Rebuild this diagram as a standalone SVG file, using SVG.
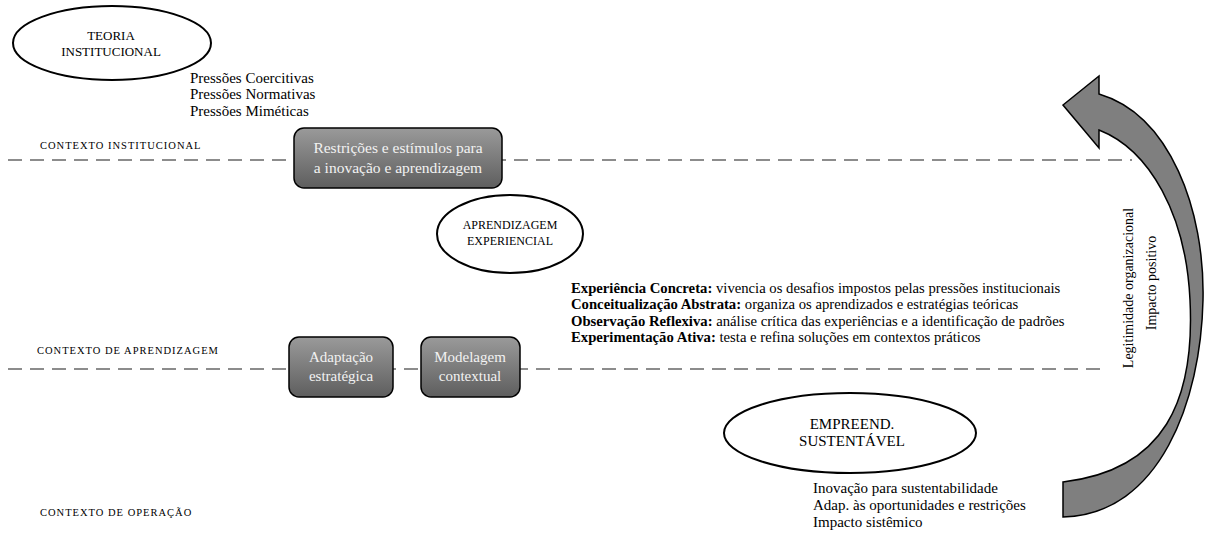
<svg xmlns="http://www.w3.org/2000/svg" width="1205" height="546" viewBox="0 0 1205 546" font-family="'Liberation Serif','Times New Roman',serif">
<defs>
<linearGradient id="boxg" x1="0" y1="0" x2="0" y2="1">
<stop offset="0" stop-color="#9a9a9a"/>
<stop offset="1" stop-color="#5e5e5e"/>
</linearGradient>
<style>
text{font-family:"Liberation Serif","Times New Roman",serif;fill:#000}
.ctx{font-size:10.5px;letter-spacing:1px}
.ell{fill:#fff;stroke:#000;stroke-width:2}
.et{font-size:13px;text-anchor:middle}
.box{fill:url(#boxg);stroke:#000;stroke-width:1.5}
.bt{font-size:15.5px;fill:#f2f2f2;text-anchor:middle}
.lst{font-size:15px}
.exp{font-size:14.7px}
.b{font-weight:bold}
.dash{stroke:#8c8c8c;stroke-width:2;stroke-dasharray:14 8;fill:none}
.arr{fill:#7f7f7f;stroke:#000;stroke-width:1.5;stroke-linejoin:miter}
</style>
</defs>
<g id="contexts">
<text class="ctx" x="40" y="149">CONTEXTO INSTITUCIONAL</text>
<text class="ctx" x="37" y="354">CONTEXTO DE APRENDIZAGEM</text>
<text class="ctx" x="40" y="516">CONTEXTO DE OPERAÇÃO</text>
</g>
<g id="connectors">
<line class="dash" x1="8" y1="160" x2="1132" y2="160"/>
<line class="dash" x1="8" y1="369" x2="1103" y2="369"/>
<path id="arrow" class="arr" d="M1063,482 C1165,470 1195,400 1190,300 C1186,215 1150,150 1099,130 L1099,148 L1063,105 L1099,76 L1099,94 C1170,115 1205,210 1203,300 C1201,400 1160,515 1063,517 Z"/>
</g>
<g id="teoria">
<ellipse class="ell" cx="112" cy="43" rx="99" ry="37"/>
<text class="et" x="111" y="40">TEORIA</text>
<text class="et" x="111" y="56">INSTITUCIONAL</text>
</g>
<g id="pressoes">
<text class="lst" x="190" y="83">Pressões Coercitivas</text>
<text class="lst" x="190" y="99">Pressões Normativas</text>
<text class="lst" x="190" y="116">Pressões Miméticas</text>
</g>
<g id="restricoes">
<rect class="box" x="294" y="128" width="208" height="60" rx="10"/>
<text class="bt" x="398" y="153">Restrições e estímulos para</text>
<text class="bt" x="398" y="173">a inovação e aprendizagem</text>
</g>
<g id="aprendizagem">
<ellipse class="ell" cx="510" cy="234" rx="73" ry="39"/>
<text class="et" x="510" y="229" style="font-size:12px">APRENDIZAGEM</text>
<text class="et" x="510" y="245" style="font-size:12px">EXPERIENCIAL</text>
</g>
<g id="experiencias">
<text class="exp" x="571" y="293"><tspan class="b">Experiência Concreta:</tspan> vivencia os desafios impostos pelas pressões institucionais</text>
<text class="exp" x="571" y="309"><tspan class="b">Conceitualização Abstrata:</tspan> organiza os aprendizados e estratégias teóricas</text>
<text class="exp" x="571" y="326"><tspan class="b">Observação Reflexiva:</tspan> análise crítica das experiências e a identificação de padrões</text>
<text class="exp" x="571" y="342"><tspan class="b">Experimentação Ativa:</tspan> testa e refina soluções em contextos práticos</text>
</g>
<g id="adaptacao">
<rect class="box" x="289" y="337" width="104" height="60" rx="10"/>
<text class="bt" x="341" y="362" style="font-size:15px">Adaptação</text>
<text class="bt" x="341" y="381" style="font-size:15px">estratégica</text>
</g>
<g id="modelagem">
<rect class="box" x="421" y="337" width="99" height="60" rx="10"/>
<text class="bt" x="470" y="362" style="font-size:15px">Modelagem</text>
<text class="bt" x="470" y="381" style="font-size:15px">contextual</text>
</g>
<g id="empreend">
<ellipse class="ell" cx="850" cy="433" rx="126" ry="40"/>
<text class="et" x="852" y="429" style="font-size:15px">EMPREEND.</text>
<text class="et" x="852" y="446" style="font-size:15px">SUSTENTÁVEL</text>
</g>
<g id="resultados">
<text class="lst" x="813" y="493">Inovação para sustentabilidade</text>
<text class="lst" x="813" y="510">Adap. às oportunidades e restrições</text>
<text class="lst" x="813" y="527">Impacto sistêmico</text>
</g>
<g id="legitimidade">
<text class="lst" transform="translate(1133,288) rotate(-90)" text-anchor="middle" style="font-size:14px">Legitimidade organizacional</text>
<text class="lst" transform="translate(1156,283) rotate(-90)" text-anchor="middle" style="font-size:14px">Impacto positivo</text>
</g>
</svg>
